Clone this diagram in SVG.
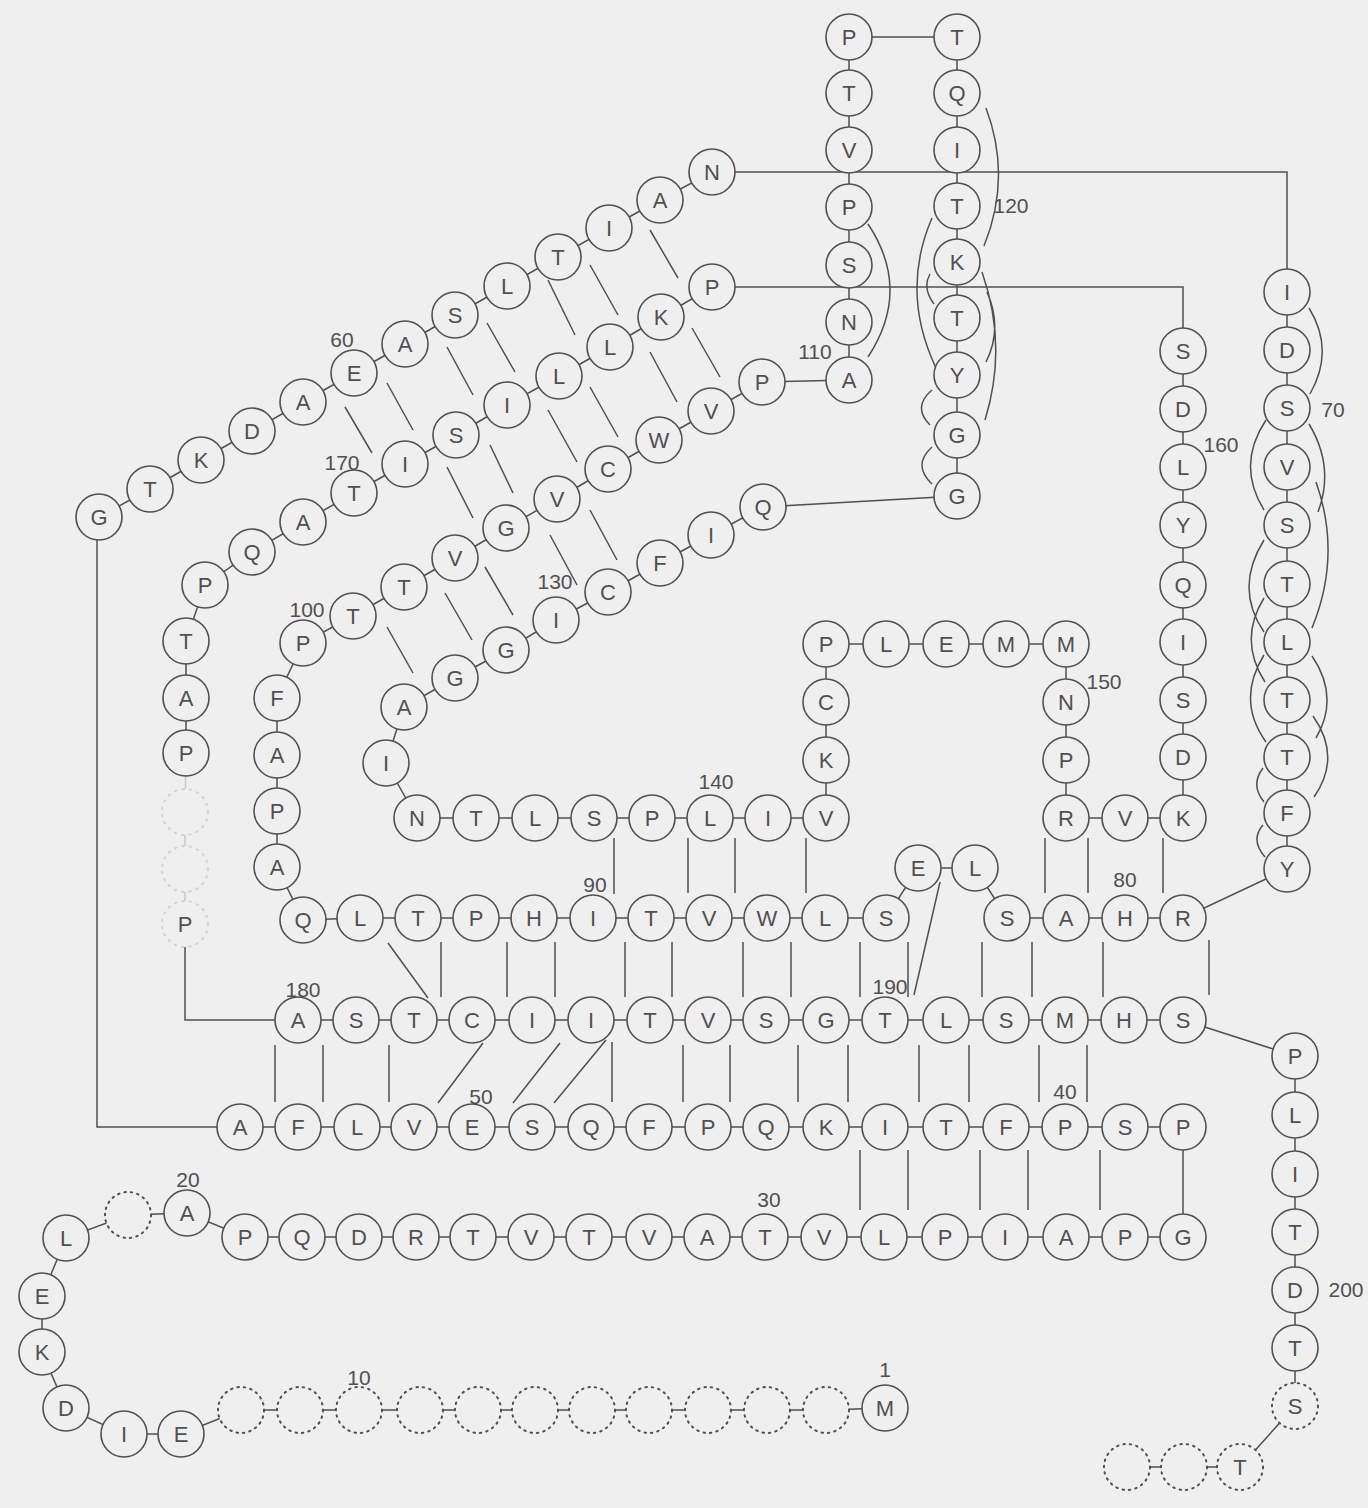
<svg xmlns="http://www.w3.org/2000/svg" width="1368" height="1508" viewBox="0 0 1368 1508">
<style>
.bg{fill:#efefef}
circle{fill:#efefef;stroke:#505050;stroke-width:1.6}
circle.d{stroke-dasharray:1.5 5;stroke-linecap:round;stroke-width:2}
circle.f{stroke:#d2d2d2;stroke-dasharray:1.5 6;stroke-linecap:round;stroke-width:2}
text{font-family:"Liberation Sans",Arial,sans-serif;fill:#505050;text-anchor:middle;font-size:22px}
text.num{font-size:21px}
#conn polyline,#conn path{stroke:#505050;stroke-width:1.5;fill:none}
#conn .lt{stroke:#c8c8c8}
</style>
<rect class="bg" x="0" y="0" width="1368" height="1508"/>
<g id="conn">
<polyline points="885,1408 826,1410 767,1410 708,1410 649,1410 592,1410 535,1410 478,1410 420,1410 359,1410 300,1410 241,1410 181,1434 124,1434 66,1408 42,1352 42,1296 66,1238 128,1215 187,1213 245,1237 302,1237 359,1237 416,1237 473,1237 531,1237 589,1237 649,1237 707,1237 765,1237 824,1237 884,1237 945,1237 1005,1237 1066,1237 1125,1237 1183,1237 1183,1127 1125,1127 1065,1127 1006,1127 946,1127 885,1127 826,1127 766,1127 708,1127 649,1127 591,1127 532,1127 472,1127 414,1127 357,1127 298,1127 240,1127 97,1127 97,540 99,517 150,489 201,460 252,431 303,402 354,373 405,344 455,315 507,286 558,257 609,228 660,200 712,172 1287,172 1287,292 1287,350 1287,408 1287,467 1287,525 1287,584 1287,642 1287,700 1287,757 1287,813 1287,869 1183,918 1125,918 1066,918 1007,918 975,868 918,868 886,918 825,918 767,918 709,918 651,918 593,918 534,918 476,918 418,918 360,918 303,920 277,867 277,811 277,755 277,698 303,643 353,616 404,587 455,558 506,528 557,499 608,469 659,440 711,411 762,382 849,380 849,322 849,265 849,207 849,150 849,93 849,37 957,37 957,93 957,150 957,206 957,262 957,318 957,375 957,435 957,496 763,507 711,535 660,563 608,592 556,620 506,650 455,678 404,707 386,763 417,818 476,818 535,818 594,818 652,818 710,818 768,818 826,818 826,760 826,702 826,644 886,644 946,644 1006,644 1066,644 1066,702 1066,760 1066,818 1125,818 1183,818 1183,757 1183,700 1183,642 1183,585 1183,525 1183,467 1183,409 1183,351 1183,287 712,287 661,317 610,347 559,376 507,405 456,435 405,464 354,493 303,522 252,552 205,585 186,641 186,698 186,753"/>
<polyline class="lt" points="186,753 185,812 185,869 185,924"/>
<polyline points="185,946 185,1020 298,1020 356,1020 414,1020 472,1020 532,1020 591,1020 650,1020 708,1020 766,1020 826,1020 885,1020 946,1020 1006,1020 1065,1020 1124,1020 1183,1020 1295,1056 1295,1115 1295,1174 1295,1232 1295,1290 1295,1348 1295,1406 1240,1467 1184,1467 1127,1467"/>
<path d="M650,230L678,278M590,265L618,315M548,280L575,335M487,323L515,372M447,347L473,395M387,383L413,430M345,407L372,453M692,328L720,377M650,352L677,402M590,387L618,437M548,410L577,462M490,445L513,493M447,467L473,518M590,510L617,560M550,535L577,585M485,567L513,615M445,593L472,640M387,627L413,673"/>
<path d="M614,838V894M688,838V893M735,838V893M806,838V893M1045,838V893M1088,838V893M1163,838V893M388,943L428,998M441,942V997M507,942V997M555,942V997M625,942V997M672,942V997M743,942V997M791,942V997M860,942V997M908,942V997M982,942V997M1032,942V997M1103,942V997M1209,940V995M940,882L914,995M275,1045V1102M323,1045V1102M389,1045V1102M483,1043L438,1103M560,1043L513,1103M606,1040L554,1103M612,1042V1102M683,1045V1102M730,1045V1102M798,1045V1102M848,1045V1102M919,1045V1102M969,1045V1102M1039,1045V1102M1087,1045V1102M860,1150V1210M908,1150V1210M980,1150V1210M1028,1150V1210M1100,1150V1210"/>
<path d="M868,224Q912,290 868,357M986,108Q1012,177 984,246M982,272Q1008,346 985,420M987,292Q1003,328 986,362M932,218Q900,292 936,368M930,274Q922,288 934,304M932,390Q912,407 930,425M932,447Q912,465 932,484M1309,308Q1335,350 1310,394M1309,424Q1335,467 1318,512M1316,482Q1342,555 1312,628M1312,656Q1340,697 1316,738M1313,716Q1342,757 1314,797M1266,420Q1236,465 1264,510M1264,540Q1234,588 1264,632M1264,598Q1238,640 1265,682M1264,655Q1236,700 1266,742M1263,768Q1250,785 1264,802M1263,825Q1250,840 1265,857"/>
</g>
<g id="nodes">
<g id="r1"><circle cx="885" cy="1408" r="23"/><text x="885" y="1416">M</text></g>
<g id="r2"><circle class="d" cx="826" cy="1410" r="23"/></g>
<g id="r3"><circle class="d" cx="767" cy="1410" r="23"/></g>
<g id="r4"><circle class="d" cx="708" cy="1410" r="23"/></g>
<g id="r5"><circle class="d" cx="649" cy="1410" r="23"/></g>
<g id="r6"><circle class="d" cx="592" cy="1410" r="23"/></g>
<g id="r7"><circle class="d" cx="535" cy="1410" r="23"/></g>
<g id="r8"><circle class="d" cx="478" cy="1410" r="23"/></g>
<g id="r9"><circle class="d" cx="420" cy="1410" r="23"/></g>
<g id="r10"><circle class="d" cx="359" cy="1410" r="23"/></g>
<g id="r11"><circle class="d" cx="300" cy="1410" r="23"/></g>
<g id="r12"><circle class="d" cx="241" cy="1410" r="23"/></g>
<g id="r13"><circle cx="181" cy="1434" r="23"/><text x="181" y="1442">E</text></g>
<g id="r14"><circle cx="124" cy="1434" r="23"/><text x="124" y="1442">I</text></g>
<g id="r15"><circle cx="66" cy="1408" r="23"/><text x="66" y="1416">D</text></g>
<g id="r16"><circle cx="42" cy="1352" r="23"/><text x="42" y="1360">K</text></g>
<g id="r17"><circle cx="42" cy="1296" r="23"/><text x="42" y="1304">E</text></g>
<g id="r18"><circle cx="66" cy="1238" r="23"/><text x="66" y="1246">L</text></g>
<g id="r19"><circle class="d" cx="128" cy="1215" r="23"/></g>
<g id="r20"><circle cx="187" cy="1213" r="23"/><text x="187" y="1221">A</text></g>
<g id="r21"><circle cx="245" cy="1237" r="23"/><text x="245" y="1245">P</text></g>
<g id="r22"><circle cx="302" cy="1237" r="23"/><text x="302" y="1245">Q</text></g>
<g id="r23"><circle cx="359" cy="1237" r="23"/><text x="359" y="1245">D</text></g>
<g id="r24"><circle cx="416" cy="1237" r="23"/><text x="416" y="1245">R</text></g>
<g id="r25"><circle cx="473" cy="1237" r="23"/><text x="473" y="1245">T</text></g>
<g id="r26"><circle cx="531" cy="1237" r="23"/><text x="531" y="1245">V</text></g>
<g id="r27"><circle cx="589" cy="1237" r="23"/><text x="589" y="1245">T</text></g>
<g id="r28"><circle cx="649" cy="1237" r="23"/><text x="649" y="1245">V</text></g>
<g id="r29"><circle cx="707" cy="1237" r="23"/><text x="707" y="1245">A</text></g>
<g id="r30"><circle cx="765" cy="1237" r="23"/><text x="765" y="1245">T</text></g>
<g id="r31"><circle cx="824" cy="1237" r="23"/><text x="824" y="1245">V</text></g>
<g id="r32"><circle cx="884" cy="1237" r="23"/><text x="884" y="1245">L</text></g>
<g id="r33"><circle cx="945" cy="1237" r="23"/><text x="945" y="1245">P</text></g>
<g id="r34"><circle cx="1005" cy="1237" r="23"/><text x="1005" y="1245">I</text></g>
<g id="r35"><circle cx="1066" cy="1237" r="23"/><text x="1066" y="1245">A</text></g>
<g id="r36"><circle cx="1125" cy="1237" r="23"/><text x="1125" y="1245">P</text></g>
<g id="r37"><circle cx="1183" cy="1237" r="23"/><text x="1183" y="1245">G</text></g>
<g id="r38"><circle cx="1183" cy="1127" r="23"/><text x="1183" y="1135">P</text></g>
<g id="r39"><circle cx="1125" cy="1127" r="23"/><text x="1125" y="1135">S</text></g>
<g id="r40"><circle cx="1065" cy="1127" r="23"/><text x="1065" y="1135">P</text></g>
<g id="r41"><circle cx="1006" cy="1127" r="23"/><text x="1006" y="1135">F</text></g>
<g id="r42"><circle cx="946" cy="1127" r="23"/><text x="946" y="1135">T</text></g>
<g id="r43"><circle cx="885" cy="1127" r="23"/><text x="885" y="1135">I</text></g>
<g id="r44"><circle cx="826" cy="1127" r="23"/><text x="826" y="1135">K</text></g>
<g id="r45"><circle cx="766" cy="1127" r="23"/><text x="766" y="1135">Q</text></g>
<g id="r46"><circle cx="708" cy="1127" r="23"/><text x="708" y="1135">P</text></g>
<g id="r47"><circle cx="649" cy="1127" r="23"/><text x="649" y="1135">F</text></g>
<g id="r48"><circle cx="591" cy="1127" r="23"/><text x="591" y="1135">Q</text></g>
<g id="r49"><circle cx="532" cy="1127" r="23"/><text x="532" y="1135">S</text></g>
<g id="r50"><circle cx="472" cy="1127" r="23"/><text x="472" y="1135">E</text></g>
<g id="r51"><circle cx="414" cy="1127" r="23"/><text x="414" y="1135">V</text></g>
<g id="r52"><circle cx="357" cy="1127" r="23"/><text x="357" y="1135">L</text></g>
<g id="r53"><circle cx="298" cy="1127" r="23"/><text x="298" y="1135">F</text></g>
<g id="r54"><circle cx="240" cy="1127" r="23"/><text x="240" y="1135">A</text></g>
<g id="r55"><circle cx="99" cy="517" r="23"/><text x="99" y="525">G</text></g>
<g id="r56"><circle cx="150" cy="489" r="23"/><text x="150" y="497">T</text></g>
<g id="r57"><circle cx="201" cy="460" r="23"/><text x="201" y="468">K</text></g>
<g id="r58"><circle cx="252" cy="431" r="23"/><text x="252" y="439">D</text></g>
<g id="r59"><circle cx="303" cy="402" r="23"/><text x="303" y="410">A</text></g>
<g id="r60"><circle cx="354" cy="373" r="23"/><text x="354" y="381">E</text></g>
<g id="r61"><circle cx="405" cy="344" r="23"/><text x="405" y="352">A</text></g>
<g id="r62"><circle cx="455" cy="315" r="23"/><text x="455" y="323">S</text></g>
<g id="r63"><circle cx="507" cy="286" r="23"/><text x="507" y="294">L</text></g>
<g id="r64"><circle cx="558" cy="257" r="23"/><text x="558" y="265">T</text></g>
<g id="r65"><circle cx="609" cy="228" r="23"/><text x="609" y="236">I</text></g>
<g id="r66"><circle cx="660" cy="200" r="23"/><text x="660" y="208">A</text></g>
<g id="r67"><circle cx="712" cy="172" r="23"/><text x="712" y="180">N</text></g>
<g id="r68"><circle cx="1287" cy="292" r="23"/><text x="1287" y="300">I</text></g>
<g id="r69"><circle cx="1287" cy="350" r="23"/><text x="1287" y="358">D</text></g>
<g id="r70"><circle cx="1287" cy="408" r="23"/><text x="1287" y="416">S</text></g>
<g id="r71"><circle cx="1287" cy="467" r="23"/><text x="1287" y="475">V</text></g>
<g id="r72"><circle cx="1287" cy="525" r="23"/><text x="1287" y="533">S</text></g>
<g id="r73"><circle cx="1287" cy="584" r="23"/><text x="1287" y="592">T</text></g>
<g id="r74"><circle cx="1287" cy="642" r="23"/><text x="1287" y="650">L</text></g>
<g id="r75"><circle cx="1287" cy="700" r="23"/><text x="1287" y="708">T</text></g>
<g id="r76"><circle cx="1287" cy="757" r="23"/><text x="1287" y="765">T</text></g>
<g id="r77"><circle cx="1287" cy="813" r="23"/><text x="1287" y="821">F</text></g>
<g id="r78"><circle cx="1287" cy="869" r="23"/><text x="1287" y="877">Y</text></g>
<g id="r79"><circle cx="1183" cy="918" r="23"/><text x="1183" y="926">R</text></g>
<g id="r80"><circle cx="1125" cy="918" r="23"/><text x="1125" y="926">H</text></g>
<g id="r81"><circle cx="1066" cy="918" r="23"/><text x="1066" y="926">A</text></g>
<g id="r82"><circle cx="1007" cy="918" r="23"/><text x="1007" y="926">S</text></g>
<g id="r83"><circle cx="975" cy="868" r="23"/><text x="975" y="876">L</text></g>
<g id="r84"><circle cx="918" cy="868" r="23"/><text x="918" y="876">E</text></g>
<g id="r85"><circle cx="886" cy="918" r="23"/><text x="886" y="926">S</text></g>
<g id="r86"><circle cx="825" cy="918" r="23"/><text x="825" y="926">L</text></g>
<g id="r87"><circle cx="767" cy="918" r="23"/><text x="767" y="926">W</text></g>
<g id="r88"><circle cx="709" cy="918" r="23"/><text x="709" y="926">V</text></g>
<g id="r89"><circle cx="651" cy="918" r="23"/><text x="651" y="926">T</text></g>
<g id="r90"><circle cx="593" cy="918" r="23"/><text x="593" y="926">I</text></g>
<g id="r91"><circle cx="534" cy="918" r="23"/><text x="534" y="926">H</text></g>
<g id="r92"><circle cx="476" cy="918" r="23"/><text x="476" y="926">P</text></g>
<g id="r93"><circle cx="418" cy="918" r="23"/><text x="418" y="926">T</text></g>
<g id="r94"><circle cx="360" cy="918" r="23"/><text x="360" y="926">L</text></g>
<g id="r95"><circle cx="303" cy="920" r="23"/><text x="303" y="928">Q</text></g>
<g id="r96"><circle cx="277" cy="867" r="23"/><text x="277" y="875">A</text></g>
<g id="r97"><circle cx="277" cy="811" r="23"/><text x="277" y="819">P</text></g>
<g id="r98"><circle cx="277" cy="755" r="23"/><text x="277" y="763">A</text></g>
<g id="r99"><circle cx="277" cy="698" r="23"/><text x="277" y="706">F</text></g>
<g id="r100"><circle cx="303" cy="643" r="23"/><text x="303" y="651">P</text></g>
<g id="r101"><circle cx="353" cy="616" r="23"/><text x="353" y="624">T</text></g>
<g id="r102"><circle cx="404" cy="587" r="23"/><text x="404" y="595">T</text></g>
<g id="r103"><circle cx="455" cy="558" r="23"/><text x="455" y="566">V</text></g>
<g id="r104"><circle cx="506" cy="528" r="23"/><text x="506" y="536">G</text></g>
<g id="r105"><circle cx="557" cy="499" r="23"/><text x="557" y="507">V</text></g>
<g id="r106"><circle cx="608" cy="469" r="23"/><text x="608" y="477">C</text></g>
<g id="r107"><circle cx="659" cy="440" r="23"/><text x="659" y="448">W</text></g>
<g id="r108"><circle cx="711" cy="411" r="23"/><text x="711" y="419">V</text></g>
<g id="r109"><circle cx="762" cy="382" r="23"/><text x="762" y="390">P</text></g>
<g id="r110"><circle cx="849" cy="380" r="23"/><text x="849" y="388">A</text></g>
<g id="r111"><circle cx="849" cy="322" r="23"/><text x="849" y="330">N</text></g>
<g id="r112"><circle cx="849" cy="265" r="23"/><text x="849" y="273">S</text></g>
<g id="r113"><circle cx="849" cy="207" r="23"/><text x="849" y="215">P</text></g>
<g id="r114"><circle cx="849" cy="150" r="23"/><text x="849" y="158">V</text></g>
<g id="r115"><circle cx="849" cy="93" r="23"/><text x="849" y="101">T</text></g>
<g id="r116"><circle cx="849" cy="37" r="23"/><text x="849" y="45">P</text></g>
<g id="r117"><circle cx="957" cy="37" r="23"/><text x="957" y="45">T</text></g>
<g id="r118"><circle cx="957" cy="93" r="23"/><text x="957" y="101">Q</text></g>
<g id="r119"><circle cx="957" cy="150" r="23"/><text x="957" y="158">I</text></g>
<g id="r120"><circle cx="957" cy="206" r="23"/><text x="957" y="214">T</text></g>
<g id="r121"><circle cx="957" cy="262" r="23"/><text x="957" y="270">K</text></g>
<g id="r122"><circle cx="957" cy="318" r="23"/><text x="957" y="326">T</text></g>
<g id="r123"><circle cx="957" cy="375" r="23"/><text x="957" y="383">Y</text></g>
<g id="r124"><circle cx="957" cy="435" r="23"/><text x="957" y="443">G</text></g>
<g id="r125"><circle cx="957" cy="496" r="23"/><text x="957" y="504">G</text></g>
<g id="r126"><circle cx="763" cy="507" r="23"/><text x="763" y="515">Q</text></g>
<g id="r127"><circle cx="711" cy="535" r="23"/><text x="711" y="543">I</text></g>
<g id="r128"><circle cx="660" cy="563" r="23"/><text x="660" y="571">F</text></g>
<g id="r129"><circle cx="608" cy="592" r="23"/><text x="608" y="600">C</text></g>
<g id="r130"><circle cx="556" cy="620" r="23"/><text x="556" y="628">I</text></g>
<g id="r131"><circle cx="506" cy="650" r="23"/><text x="506" y="658">G</text></g>
<g id="r132"><circle cx="455" cy="678" r="23"/><text x="455" y="686">G</text></g>
<g id="r133"><circle cx="404" cy="707" r="23"/><text x="404" y="715">A</text></g>
<g id="r134"><circle cx="386" cy="763" r="23"/><text x="386" y="771">I</text></g>
<g id="r135"><circle cx="417" cy="818" r="23"/><text x="417" y="826">N</text></g>
<g id="r136"><circle cx="476" cy="818" r="23"/><text x="476" y="826">T</text></g>
<g id="r137"><circle cx="535" cy="818" r="23"/><text x="535" y="826">L</text></g>
<g id="r138"><circle cx="594" cy="818" r="23"/><text x="594" y="826">S</text></g>
<g id="r139"><circle cx="652" cy="818" r="23"/><text x="652" y="826">P</text></g>
<g id="r140"><circle cx="710" cy="818" r="23"/><text x="710" y="826">L</text></g>
<g id="r141"><circle cx="768" cy="818" r="23"/><text x="768" y="826">I</text></g>
<g id="r142"><circle cx="826" cy="818" r="23"/><text x="826" y="826">V</text></g>
<g id="r143"><circle cx="826" cy="760" r="23"/><text x="826" y="768">K</text></g>
<g id="r144"><circle cx="826" cy="702" r="23"/><text x="826" y="710">C</text></g>
<g id="r145"><circle cx="826" cy="644" r="23"/><text x="826" y="652">P</text></g>
<g id="r146"><circle cx="886" cy="644" r="23"/><text x="886" y="652">L</text></g>
<g id="r147"><circle cx="946" cy="644" r="23"/><text x="946" y="652">E</text></g>
<g id="r148"><circle cx="1006" cy="644" r="23"/><text x="1006" y="652">M</text></g>
<g id="r149"><circle cx="1066" cy="644" r="23"/><text x="1066" y="652">M</text></g>
<g id="r150"><circle cx="1066" cy="702" r="23"/><text x="1066" y="710">N</text></g>
<g id="r151"><circle cx="1066" cy="760" r="23"/><text x="1066" y="768">P</text></g>
<g id="r152"><circle cx="1066" cy="818" r="23"/><text x="1066" y="826">R</text></g>
<g id="r153"><circle cx="1125" cy="818" r="23"/><text x="1125" y="826">V</text></g>
<g id="r154"><circle cx="1183" cy="818" r="23"/><text x="1183" y="826">K</text></g>
<g id="r155"><circle cx="1183" cy="757" r="23"/><text x="1183" y="765">D</text></g>
<g id="r156"><circle cx="1183" cy="700" r="23"/><text x="1183" y="708">S</text></g>
<g id="r157"><circle cx="1183" cy="642" r="23"/><text x="1183" y="650">I</text></g>
<g id="r158"><circle cx="1183" cy="585" r="23"/><text x="1183" y="593">Q</text></g>
<g id="r159"><circle cx="1183" cy="525" r="23"/><text x="1183" y="533">Y</text></g>
<g id="r160"><circle cx="1183" cy="467" r="23"/><text x="1183" y="475">L</text></g>
<g id="r161"><circle cx="1183" cy="409" r="23"/><text x="1183" y="417">D</text></g>
<g id="r162"><circle cx="1183" cy="351" r="23"/><text x="1183" y="359">S</text></g>
<g id="r163"><circle cx="712" cy="287" r="23"/><text x="712" y="295">P</text></g>
<g id="r164"><circle cx="661" cy="317" r="23"/><text x="661" y="325">K</text></g>
<g id="r165"><circle cx="610" cy="347" r="23"/><text x="610" y="355">L</text></g>
<g id="r166"><circle cx="559" cy="376" r="23"/><text x="559" y="384">L</text></g>
<g id="r167"><circle cx="507" cy="405" r="23"/><text x="507" y="413">I</text></g>
<g id="r168"><circle cx="456" cy="435" r="23"/><text x="456" y="443">S</text></g>
<g id="r169"><circle cx="405" cy="464" r="23"/><text x="405" y="472">I</text></g>
<g id="r170"><circle cx="354" cy="493" r="23"/><text x="354" y="501">T</text></g>
<g id="r171"><circle cx="303" cy="522" r="23"/><text x="303" y="530">A</text></g>
<g id="r172"><circle cx="252" cy="552" r="23"/><text x="252" y="560">Q</text></g>
<g id="r173"><circle cx="205" cy="585" r="23"/><text x="205" y="593">P</text></g>
<g id="r174"><circle cx="186" cy="641" r="23"/><text x="186" y="649">T</text></g>
<g id="r175"><circle cx="186" cy="698" r="23"/><text x="186" y="706">A</text></g>
<g id="r176"><circle cx="186" cy="753" r="23"/><text x="186" y="761">P</text></g>
<g id="r177"><circle class="f" cx="185" cy="812" r="23"/></g>
<g id="r178"><circle class="f" cx="185" cy="869" r="23"/></g>
<g id="r179"><circle class="f" cx="185" cy="924" r="23"/><text x="185" y="932">P</text></g>
<g id="r180"><circle cx="298" cy="1020" r="23"/><text x="298" y="1028">A</text></g>
<g id="r181"><circle cx="356" cy="1020" r="23"/><text x="356" y="1028">S</text></g>
<g id="r182"><circle cx="414" cy="1020" r="23"/><text x="414" y="1028">T</text></g>
<g id="r183"><circle cx="472" cy="1020" r="23"/><text x="472" y="1028">C</text></g>
<g id="r184"><circle cx="532" cy="1020" r="23"/><text x="532" y="1028">I</text></g>
<g id="r185"><circle cx="591" cy="1020" r="23"/><text x="591" y="1028">I</text></g>
<g id="r186"><circle cx="650" cy="1020" r="23"/><text x="650" y="1028">T</text></g>
<g id="r187"><circle cx="708" cy="1020" r="23"/><text x="708" y="1028">V</text></g>
<g id="r188"><circle cx="766" cy="1020" r="23"/><text x="766" y="1028">S</text></g>
<g id="r189"><circle cx="826" cy="1020" r="23"/><text x="826" y="1028">G</text></g>
<g id="r190"><circle cx="885" cy="1020" r="23"/><text x="885" y="1028">T</text></g>
<g id="r191"><circle cx="946" cy="1020" r="23"/><text x="946" y="1028">L</text></g>
<g id="r192"><circle cx="1006" cy="1020" r="23"/><text x="1006" y="1028">S</text></g>
<g id="r193"><circle cx="1065" cy="1020" r="23"/><text x="1065" y="1028">M</text></g>
<g id="r194"><circle cx="1124" cy="1020" r="23"/><text x="1124" y="1028">H</text></g>
<g id="r195"><circle cx="1183" cy="1020" r="23"/><text x="1183" y="1028">S</text></g>
<g id="r196"><circle cx="1295" cy="1056" r="23"/><text x="1295" y="1064">P</text></g>
<g id="r197"><circle cx="1295" cy="1115" r="23"/><text x="1295" y="1123">L</text></g>
<g id="r198"><circle cx="1295" cy="1174" r="23"/><text x="1295" y="1182">I</text></g>
<g id="r199"><circle cx="1295" cy="1232" r="23"/><text x="1295" y="1240">T</text></g>
<g id="r200"><circle cx="1295" cy="1290" r="23"/><text x="1295" y="1298">D</text></g>
<g id="r201"><circle cx="1295" cy="1348" r="23"/><text x="1295" y="1356">T</text></g>
<g id="r202"><circle class="d" cx="1295" cy="1406" r="23"/><text x="1295" y="1414">S</text></g>
<g id="r203"><circle class="d" cx="1240" cy="1467" r="23"/><text x="1240" y="1475">T</text></g>
<g id="r204"><circle class="d" cx="1184" cy="1467" r="23"/></g>
<g id="r205"><circle class="d" cx="1127" cy="1467" r="23"/></g>
</g>
<g id="labels">
<text class="num" x="885" y="1377">1</text>
<text class="num" x="359" y="1385">10</text>
<text class="num" x="188" y="1187">20</text>
<text class="num" x="769" y="1207">30</text>
<text class="num" x="1065" y="1099">40</text>
<text class="num" x="481" y="1104">50</text>
<text class="num" x="342" y="347">60</text>
<text class="num" x="1333" y="417">70</text>
<text class="num" x="1125" y="887">80</text>
<text class="num" x="595" y="892">90</text>
<text class="num" x="307" y="617">100</text>
<text class="num" x="815" y="359">110</text>
<text class="num" x="1011" y="213">120</text>
<text class="num" x="555" y="589">130</text>
<text class="num" x="716" y="789">140</text>
<text class="num" x="1104" y="689">150</text>
<text class="num" x="1221" y="452">160</text>
<text class="num" x="342" y="470">170</text>
<text class="num" x="303" y="997">180</text>
<text class="num" x="890" y="994">190</text>
<text class="num" x="1346" y="1297">200</text>
</g>
</svg>
